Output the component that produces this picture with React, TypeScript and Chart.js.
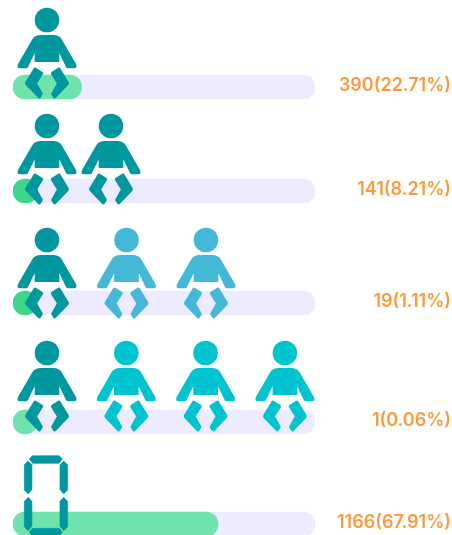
import React, { useEffect, useRef } from "react";
import { Chart, registerables } from "chart.js";

Chart.register(...registerables);

// ---- data ----
const counts = [390, 141, 19, 1, 1166];
const percents = [22.71, 8.21, 1.11, 0.06, 67.91];
const trackValues = [100, 100, 100, 100, 100];
const babyCounts = [1, 2, 3, 4, 0];

// ---- layout and styling (px-based y axis, rows are unevenly spaced in the reference) ----
const rowCenters = [87, 191, 303, 422, 524];
const headOffsets = [-67, -65, -63, -69, 0];
const iconSpacing = [0, 64, 79.5, 79.3, 0];
const barColors = ["#6fe3ab", "#3fd68c", "#3fd68c", "#6fe3ab", "#6fe3ab"];
const babyColors = ["#00989e", "#00989e", "#45b8d8", "#00c3d0", "#00989e"];
const leadBabyColor = "#00989e";

const legShape = [
  [105, 207], [125, 220], [106, 250], [124, 282], [118, 291], [80, 251], [80, 248],
];

function drawBaby(ctx: CanvasRenderingContext2D, cx: number, headY: number, color: string) {
  const px = (x: number) => cx + (x - 141) / 3;
  const py = (y: number) => headY + (y - 60) / 3;
  ctx.save();
  ctx.fillStyle = color;
  ctx.strokeStyle = color;
  ctx.beginPath();
  ctx.arc(cx, headY, 12.3, 0, Math.PI * 2);
  ctx.fill();

  ctx.beginPath();
  ctx.moveTo(px(122), py(105));
  ctx.lineTo(px(160), py(105));
  ctx.quadraticCurveTo(px(178), py(105), px(186), py(119));
  ctx.lineTo(px(228), py(192));
  ctx.quadraticCurveTo(px(233), py(205), px(222), py(205));
  ctx.lineTo(px(204), py(205));
  ctx.quadraticCurveTo(px(200), py(205), px(198), py(201));
  ctx.lineTo(px(178), py(160));
  ctx.lineTo(px(178), py(186));
  ctx.lineTo(px(104), py(186));
  ctx.lineTo(px(104), py(160));
  ctx.lineTo(px(84), py(201));
  ctx.quadraticCurveTo(px(82), py(205), px(78), py(205));
  ctx.lineTo(px(60), py(205));
  ctx.quadraticCurveTo(px(49), py(205), px(54), py(192));
  ctx.lineTo(px(96), py(119));
  ctx.quadraticCurveTo(px(104), py(105), px(122), py(105));
  ctx.closePath();
  ctx.fill();

  ctx.lineWidth = 3;
  ctx.lineJoin = "round";
  [1, -1].forEach((side) => {
    ctx.beginPath();
    legShape.forEach(([x, y], i) => {
      const sx = cx + (side * (x - 141)) / 3;
      if (i) ctx.lineTo(sx, py(y));
      else ctx.moveTo(sx, py(y));
    });
    ctx.closePath();
    ctx.fill();
    ctx.stroke();
  });
  ctx.restore();
}

function drawZero(ctx: CanvasRenderingContext2D, top: number, color: string) {
  const left = 24.3;
  const px = (x: number) => left + (x - 73) / 3;
  const py = (y: number) => top + (y - 47) / 3;
  const poly = (pts: number[][]) => {
    ctx.beginPath();
    pts.forEach(([x, y], i) => (i ? ctx.lineTo(px(x), py(y)) : ctx.moveTo(px(x), py(y))));
    ctx.closePath();
    ctx.fill();
    ctx.stroke();
  };
  ctx.save();
  ctx.fillStyle = color;
  ctx.strokeStyle = color;
  ctx.lineWidth = 0.6;
  ctx.lineJoin = "round";
  poly([[97, 47], [178, 47], [187, 57], [177, 70], [98, 70], [88, 57]]);
  poly([[97, 265], [178, 265], [187, 276], [178, 290], [98, 290], [88, 276]]);
  poly([[84, 63], [96, 74], [96, 148], [85, 162], [73, 150], [73, 74]]);
  poly([[85, 172], [96, 184], [96, 258], [84, 272], [73, 260], [73, 184]]);
  poly([[191, 63], [203, 74], [203, 150], [191, 162], [180, 148], [180, 74]]);
  poly([[191, 172], [203, 184], [203, 260], [191, 272], [180, 258], [180, 184]]);
  ctx.restore();
}

const rowDecor = {
  id: "rowDecor",
  afterDatasetsDraw(chart: any) {
    const { ctx, scales, width } = chart;
    const firstX = scales.x.getPixelForValue(0) + 34;
    rowCenters.forEach((row, r) => {
      const yc = scales.y.getPixelForValue(row);
      for (let i = 0; i < babyCounts[r]; i++) {
        const color = i === 0 ? leadBabyColor : babyColors[r];
        drawBaby(ctx, firstX + i * iconSpacing[r], yc + headOffsets[r], color);
      }
      if (babyCounts[r] === 0) drawZero(ctx, yc - 68.3, babyColors[r]);
      ctx.save();
      ctx.font = '600 18px Inter, "Open Sans", sans-serif';
      ctx.fillStyle = "#ff9a3c";
      ctx.textAlign = "right";
      ctx.textBaseline = "middle";
      ctx.fillText(`${counts[r]}(${percents[r].toFixed(2)}%)`, width - 1, yc - 1.5);
      ctx.restore();
    });
  },
};

export default function App() {
  const ref = useRef<HTMLCanvasElement>(null);
  useEffect(() => {
    document.body.style.margin = "0";
    const chart = new Chart(ref.current!, {
      type: "bar",
      plugins: [rowDecor],
      data: {
        datasets: [
          {
            label: "share",
            data: percents.map((v, i) => ({ x: v, y: rowCenters[i] })),
            backgroundColor: barColors,
            borderRadius: 12,
            borderSkipped: false,
            barThickness: 24,
            minBarLength: 24,
            grouped: false,
            order: 1,
          },
          {
            label: "track",
            data: trackValues.map((v, i) => ({ x: v, y: rowCenters[i] })),
            backgroundColor: "#ecebff",
            borderRadius: 12,
            borderSkipped: false,
            barThickness: 24,
            grouped: false,
            order: 2,
          },
        ],
      } as any,
      options: {
        indexAxis: "y",
        animation: false,
        responsive: false,
        layout: { padding: { left: 13, right: 137, top: 0, bottom: 0 } },
        plugins: { legend: { display: false }, tooltip: { enabled: false } },
        scales: {
          x: { type: "linear", min: 0, max: 100, display: false },
          y: { type: "linear", min: 0, max: 535, reverse: true, display: false, offset: false },
        },
      } as any,
    });
    return () => chart.destroy();
  }, []);
  return <canvas ref={ref} width={452} height={535} style={{ display: "block" }} />;
}
